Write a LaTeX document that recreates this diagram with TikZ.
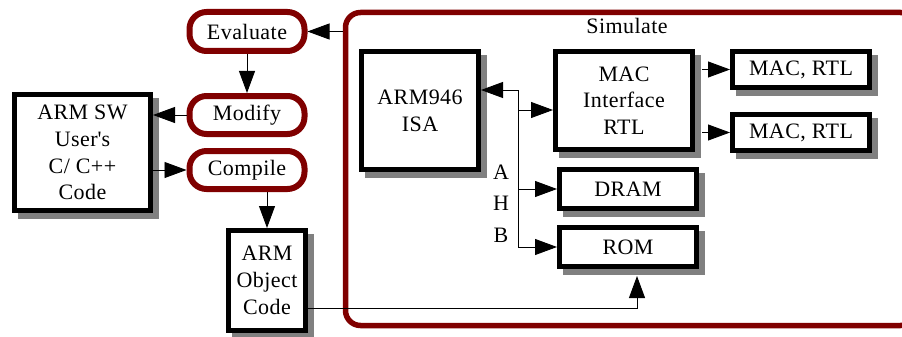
\documentclass[tikz,border=0pt]{standalone}
\usepackage{fontspec}
\setmainfont{Liberation Serif}[LetterSpace=2]
\usetikzlibrary{arrows.meta,shadows,calc}
\definecolor{dred}{RGB}{128,0,0}
\begin{document}
\begin{tikzpicture}[x=1pt,y=-1pt,
  font=\fontsize{22}{26.7}\selectfont,
  box/.style={draw=black, line width=5pt, fill=white, align=center, inner sep=0pt,
    drop shadow={shadow xshift=6pt, shadow yshift=-6pt, fill=gray, draw=gray, line width=5pt, opacity=1}},
  pill/.style={draw=dred, line width=6pt, fill=white, rounded corners=17pt, align=center, inner sep=0pt},
  frame/.style={draw=dred, line width=5.5pt, rounded corners=15pt},
  conn/.style={line width=0.9pt},
  arr/.style={conn, -{Triangle[length=22pt,width=16pt]}}]
\useasboundingbox[fill=white] (0,0) rectangle (902,337);

% Simulate frame
\node[frame, minimum width=570pt, minimum height=313pt] (sim) at (630.5,169) {};
\node (simlbl) at (627,26) {Simulate};

% left flow
\node[pill, minimum width=115pt, minimum height=39pt] (eval) at (247,31.5) {Evaluate};
\node[pill, minimum width=115pt, minimum height=38pt] (modify) at (247,115) {Modify};
\node[pill, minimum width=115pt, minimum height=38pt] (compile) at (247,170) {Compile};
\node[box, minimum width=136pt, minimum height=116pt] (sw) at (82.5,152.5) {ARM SW\\User\textquotesingle s\\C/ C++\\Code};
\node[box, minimum width=77pt, minimum height=100pt] (obj) at (267,280.5) {ARM\\Object\\Code};

% inside simulate
\node[box, minimum width=117pt, minimum height=118pt] (isa) at (420,110.5) {ARM946\\ISA};
\node[box, minimum width=137pt, minimum height=98pt] (macif) at (624,100.5) {MAC\\Interface\\RTL};
\node[box, minimum width=137pt, minimum height=36pt] (rtl1) at (801,69.5) {MAC, RTL};
\node[box, minimum width=137pt, minimum height=36pt] (rtl2) at (801,132.5) {MAC, RTL};
\node[box, minimum width=137pt, minimum height=39pt] (dram) at (628,189) {DRAM};
\node[box, minimum width=137pt, minimum height=39pt] (rom) at (628,247) {ROM};
\node[align=center, font=\fontsize{22}{31.5}\selectfont] (ahb) at (501,203.5) {A\\H\\B};

% connectors left
\draw[arr] (sim.west |- eval.east) -- (eval.east);
\draw[arr] (eval.south) -- (modify.north);
\draw[arr] (modify.west) -- (modify.west -| sw.east);
\draw[arr] (sw.east |- compile.west) -- (compile.west);
\draw[arr] (compile.south -| obj.north) -- (obj.north);
\coordinate (bend) at (637,308);
\draw[arr] (obj.east |- bend) -- (bend) -- ($(bend |- rom.south)+(0,7)$);

% bus
\coordinate (bt) at (518,90);
\coordinate (bm) at (518,110);
\coordinate (bb) at (518,247);
\draw[conn] (bt) -- (bb);
\draw[arr] (bt) -- (bt -| isa.east);
\draw[arr] (bm) -- (bm -| macif.west);
\draw[arr] (bt |- dram.west) -- (dram.west);
\draw[arr] (bb) -- (rom.west);

% MAC
\draw[arr] ($(macif.east |- rtl1.west)+(7,0)$) -- (rtl1.west);
\draw[arr] ($(macif.east |- rtl2.west)+(7,0)$) -- (rtl2.west);
\end{tikzpicture}
\end{document}
